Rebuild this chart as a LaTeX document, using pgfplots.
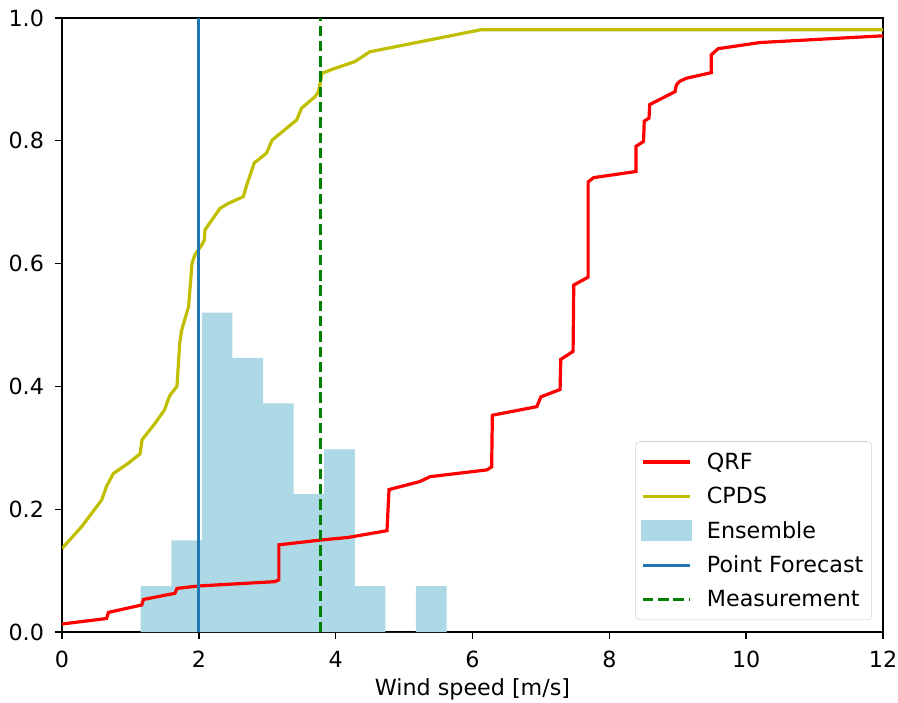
\documentclass[border=0pt]{standalone}
\usepackage{fontspec}
\setmainfont{DejaVu Sans}
\usepackage{pgfplots}
\pgfplotsset{compat=1.18}

\definecolor{qrfred}{RGB}{255,0,0}
\definecolor{cpdsy}{rgb}{0.75,0.75,0}
\definecolor{enslb}{HTML}{ADD8E6}
\definecolor{tabblue}{HTML}{1F77B4}
\definecolor{mgreen}{HTML}{008000}

\begin{document}
\begin{tikzpicture}
% page frame: axis box is 591pt x 442pt, placed at the origin
\useasboundingbox (-44.64pt,-50.4pt) rectangle (601.8pt,454.96pt);
\begin{axis}[
    at={(0,0)}, anchor=south west,
    scale only axis,
    width=591pt, height=442pt,
    xmin=0, xmax=12, ymin=0, ymax=1,
    xtick={0,2,4,6,8,10,12},
    ytick={0,0.2,0.4,0.6,0.8,1.0},
    yticklabel style={xshift=-4.5pt, /pgf/number format/.cd, fixed, fixed zerofill, precision=1},
    /pgf/number format/assume math mode=true,
    tick align=outside,
    xtick pos=bottom, ytick pos=left,
    major tick length=5pt,
    every tick/.style={black, line width=1pt},
    axis line style={line width=1.2pt},
    tick label style={font=\fontsize{16}{19}\selectfont},
    xticklabel style={yshift=-5pt},
    label style={font=\fontsize{16}{19}\selectfont},
    xlabel={Wind speed [m/s]},
    xlabel style={at={(axis description cs:0.5,0)}, anchor=base, yshift=-45.4pt},
    legend cell align=left,
    legend style={at={(rel axis cs:1,0)}, anchor=south east,
        xshift=-8pt, yshift=8.5pt, draw=black!18, rounded corners=3pt,
        font=\fontsize{16}{19}\selectfont,
        row sep=7.3pt, column sep=9pt, inner xsep=4pt, inner ysep=6pt},
    legend image code/.code={\draw[#1, sharp corners] (0pt,0pt) -- (34pt,0pt);},
    every axis plot/.append style={line width=2.3pt},
]
% ensemble histogram (density)
\addplot[ybar interval, fill=enslb, draw=none, line width=0pt, forget plot] coordinates {
    (1.150,0.0746)(1.597,0.1492)(2.044,0.5200)(2.491,0.4465)(2.938,0.3725)
    (3.385,0.2245)(3.832,0.2975)(4.279,0.0746)(4.726,0)(5.173,0.0746)(5.620,0)
};
% QRF
\addplot[qrfred, mark=none] coordinates {
    (0,0.013)(0.65,0.022)(0.68,0.032)(1.165,0.044)(1.19,0.053)(1.65,0.063)
    (1.68,0.071)(2.0,0.075)(3.11,0.082)(3.17,0.085)(3.17,0.142)(3.80,0.150)
    (4.18,0.154)(4.75,0.165)(4.78,0.232)(5.23,0.245)(5.38,0.253)(6.21,0.264)
    (6.28,0.269)(6.29,0.353)(6.94,0.367)(7.0,0.383)(7.28,0.395)(7.29,0.444)
    (7.47,0.457)(7.48,0.565)(7.69,0.578)(7.69,0.733)(7.77,0.740)(8.39,0.750)
    (8.39,0.791)(8.50,0.799)(8.51,0.832)(8.58,0.837)(8.59,0.859)(8.96,0.880)
    (8.98,0.891)(9.03,0.897)(9.13,0.902)(9.49,0.911)(9.49,0.940)(9.59,0.950)
    (10.2,0.960)(12.0,0.971)
};
\addlegendentry{QRF}
% CPDS
\addplot[cpdsy, mark=none] coordinates {
    (0,0.136)(0.29,0.172)(0.58,0.215)(0.65,0.237)(0.75,0.258)(0.97,0.275)
    (1.14,0.290)(1.17,0.313)(1.36,0.340)(1.50,0.362)(1.55,0.378)(1.58,0.386)
    (1.68,0.400)(1.72,0.470)(1.75,0.492)(1.80,0.511)(1.85,0.530)(1.90,0.600)
    (1.94,0.614)(2.04,0.630)(2.08,0.638)(2.09,0.655)(2.31,0.690)(2.43,0.698)
    (2.65,0.709)(2.70,0.728)(2.81,0.764)(2.99,0.780)(3.07,0.801)(3.43,0.834)
    (3.50,0.853)(3.70,0.872)(3.75,0.880)(3.80,0.910)(3.99,0.918)(4.28,0.929)
    (4.50,0.945)(6.13,0.981)(12,0.981)
};
\addlegendentry{CPDS}
\addlegendimage{legend image code/.code={\fill[enslb, sharp corners] (0pt,-6.5pt) rectangle (34pt,6.5pt);}}
\addlegendentry{Ensemble}
% point forecast
\addplot[tabblue, mark=none] coordinates {(2.0,0)(2.0,1)};
\addlegendentry{Point Forecast}
% measurement
\addplot[mgreen, mark=none, dash pattern=on 7.5pt off 3.5pt] coordinates {(3.78,0)(3.78,1)};
\addlegendentry{Measurement}
\end{axis}
\end{tikzpicture}
\end{document}
